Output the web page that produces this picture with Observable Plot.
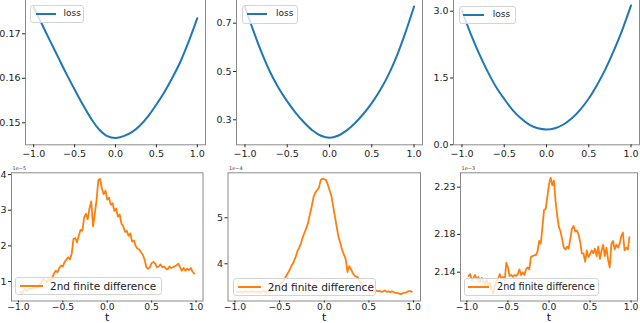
<!DOCTYPE html>
<html><head><meta charset="utf-8">
<script src="https://cdn.jsdelivr.net/npm/d3@7"></script>
<script src="https://cdn.jsdelivr.net/npm/@observablehq/plot@0.6"></script>
<style>
body{margin:0;background:#fff;}
#wrap{position:relative;width:640px;height:323px;overflow:hidden;background:#fff;font-family:"DejaVu Sans",sans-serif;}
#wrap svg{position:absolute;left:0;top:-10px;}
.leg{position:absolute;box-sizing:border-box;background:rgba(255,255,255,0.8);border:1px solid #d4d4d4;border-radius:3px;color:#222;white-space:nowrap;}
.leg .ln{position:absolute;height:2px;top:50%;margin-top:-1px;}
.leg .tx{position:absolute;top:50%;transform:translateY(-52%);line-height:1;}
</style></head><body><div id="wrap"></div>
<script>
// ---- data ----
const tTop = [-1.0,-0.9,-0.8,-0.7,-0.6,-0.5,-0.4,-0.3,-0.2,-0.1,0.0,0.1,0.2,0.3,0.4,0.5,0.6,0.7,0.8,0.9,1.0];
const lossA = [0.1760,0.1722,0.1684,0.1647,0.1610,0.1575,0.1541,0.1510,0.1485,0.1470,0.1466,0.1470,0.1479,0.1494,0.1515,0.1541,0.1570,0.1603,0.1640,0.1685,0.1735];
const lossB = [0.768,0.668,0.576,0.496,0.431,0.376,0.329,0.289,0.256,0.234,0.2255,0.234,0.255,0.286,0.324,0.369,0.423,0.488,0.568,0.663,0.769];
const lossC = [3.01,2.51,2.06,1.66,1.31,1.03,0.78,0.59,0.45,0.37,0.344,0.372,0.456,0.595,0.79,1.04,1.35,1.71,2.13,2.60,3.13];

const tBot = [-0.98,-0.96,-0.94,-0.92,-0.90,-0.88,-0.86,-0.84,-0.82,-0.80,
  -0.78,-0.76,-0.74,-0.72,-0.70,-0.68,-0.66,-0.64,-0.62,-0.60,
  -0.58,-0.56,-0.54,-0.52,-0.50,-0.48,-0.46,-0.44,-0.42,-0.40,
  -0.38,-0.36,-0.34,-0.32,-0.30,-0.28,-0.26,-0.24,-0.22,-0.20,
  -0.18,-0.16,-0.14,-0.12,-0.10,-0.08,-0.06,-0.04,-0.02,0.00,
  0.02,0.04,0.06,0.08,0.10,0.12,0.14,0.16,0.18,0.20,
  0.22,0.24,0.26,0.28,0.30,0.32,0.34,0.36,0.38,0.40,
  0.42,0.44,0.46,0.48,0.50,0.52,0.54,0.56,0.58,0.60,
  0.62,0.64,0.66,0.68,0.70,0.72,0.74,0.76,0.78,0.80,
  0.82,0.84,0.86,0.88,0.90,0.92,0.94,0.96,0.98];
// second finite difference, in units of 1e-5, 1e-4, 1e-3
const fdA = [0.72,0.66,0.75,0.78,0.74,0.80,0.78,0.82,0.80,0.86,
  0.84,0.92,0.98,1.08,1.02,0.98,1.07,1.02,1.10,1.22,
  1.30,1.26,1.38,1.45,1.42,1.55,1.62,1.68,1.62,1.78,
  2.20,2.22,2.10,2.30,2.45,2.42,2.80,2.90,2.75,3.05,
  3.25,2.55,2.90,3.30,3.85,3.88,3.60,3.45,3.55,3.30,
  3.35,3.15,3.20,2.98,3.05,2.82,2.88,2.62,2.55,2.40,
  2.42,2.28,2.35,2.12,2.15,2.00,1.92,1.90,1.82,1.75,
  1.62,1.40,1.36,1.40,1.52,1.55,1.50,1.40,1.42,1.48,
  1.40,1.42,1.36,1.34,1.42,1.38,1.40,1.43,1.45,1.50,
  1.40,1.30,1.38,1.30,1.36,1.32,1.38,1.28,1.22];
const fdB = [3.40,3.38,3.40,3.37,3.39,3.41,3.38,3.40,3.38,3.41,
  3.39,3.38,3.40,3.37,3.39,3.42,3.39,3.40,3.38,3.41,
  3.40,3.43,3.46,3.50,3.55,3.58,3.62,3.68,3.76,3.82,
  3.90,3.98,4.05,4.15,4.28,4.35,4.45,4.58,4.68,4.78,
  4.90,5.08,5.25,5.45,5.55,5.60,5.65,5.82,5.85,5.84,
  5.82,5.72,5.60,5.48,5.25,5.02,4.80,4.58,4.45,4.30,
  4.20,4.10,3.82,3.95,3.88,3.80,3.74,3.72,3.70,3.62,
  3.55,3.48,3.44,3.42,3.40,3.41,3.39,3.40,3.42,3.40,
  3.41,3.39,3.40,3.42,3.39,3.40,3.38,3.40,3.38,3.37,
  3.36,3.35,3.34,3.36,3.37,3.38,3.40,3.41,3.39];
const fdC = [2.136,2.138,2.131,2.134,2.137,2.132,2.135,2.129,2.134,2.130,
  2.127,2.132,2.126,2.129,2.121,2.117,2.125,2.130,2.133,2.138,
  2.133,2.135,2.131,2.150,2.145,2.136,2.137,2.135,2.137,2.136,
  2.138,2.143,2.137,2.140,2.137,2.143,2.145,2.143,2.156,2.157,
  2.158,2.158,2.162,2.173,2.170,2.188,2.206,2.207,2.220,2.233,
  2.240,2.232,2.237,2.215,2.200,2.188,2.183,2.175,2.166,2.164,
  2.167,2.165,2.176,2.186,2.189,2.183,2.184,2.180,2.172,2.160,
  2.160,2.151,2.163,2.156,2.159,2.163,2.160,2.165,2.157,2.167,
  2.154,2.163,2.169,2.157,2.166,2.153,2.145,2.170,2.173,2.164,
  2.169,2.166,2.170,2.178,2.182,2.163,2.166,2.164,2.177];

const xTicks = [-1.0,-0.5,0.0,0.5,1.0];
const yTicksA = [0.15,0.16,0.17], yTicksB = [0.3,0.5,0.7], yTicksC = [0.0,1.5,3.0];
const yTicksD = [1,2,3,4], yTicksE = [4,5], yTicksF = [2.14,2.18,2.23];
const offsets = ["1e\u22125","1e\u22124","1e\u22123"];
const topLabel = "loss", botLabel = "2nd finite difference", xLabel = "t";

// ---- layout ----
const BLUE = "#1f77b4", ORANGE = "#ff7f0e";
const W = 640, H = 333, OFF = 10;
const panels = [
  {t:tTop, v:lossA, c:BLUE, L:25, R:205, T:-1, B:144.3, xd:[-1.1,1.1], yd:[0.14506,0.1777], yt:yTicksA, yf:".2f", curve:"catmull-rom", pad:2, ts:3, fs:9.5},
  {t:tTop, v:lossB, c:BLUE, L:236, R:422, T:-1, B:144.3, xd:[-1.1,1.1], yd:[0.1965,0.798], yt:yTicksB, yf:".1f", curve:"catmull-rom", pad:2, ts:3, fs:9.5},
  {t:tTop, v:lossC, c:BLUE, L:453, R:639, T:-1, B:144.3, xd:[-1.1,1.1], yd:[0,3.263], yt:yTicksC, yf:".1f", curve:"catmull-rom", pad:2, ts:3, fs:9.5},
  {t:tBot, v:fdA, c:ORANGE, L:11, R:202.5, T:172.3, B:300.5, xd:[-1.078,1.078], yd:[0.453,4.05], yt:yTicksD, yf:"d", curve:"linear", pad:0, ts:2, fs:9.2, off:offsets[0]},
  {t:tBot, v:fdB, c:ORANGE, L:227.5, R:420, T:172.3, B:300.5, xd:[-1.078,1.078], yd:[3.191,5.978], yt:yTicksE, yf:"d", curve:"linear", pad:0, ts:2, fs:9.2, off:offsets[1]},
  {t:tBot, v:fdC, c:ORANGE, L:460, R:637, T:172.3, B:300.5, xd:[-1.078,1.078], yd:[2.1095,2.2452], yt:yTicksF, yf:".2f", curve:"linear", pad:0, ts:2, fs:9.2, off:offsets[2]}
];

const wrap = document.getElementById("wrap");
for (const p of panels) {
  const data = p.t.map((t, i) => ({t, v: p.v[i]}));
  const marks = [
    Plot.frame({stroke: "#8a8a8a", strokeWidth: 1}),
    Plot.axisX({ticks: xTicks, tickFormat: d3.format(".1f"), tickSize: p.ts, tickPadding: p.pad, label: null, fontSize: p.fs}),
    Plot.axisY({ticks: p.yt, tickFormat: d3.format(p.yf), tickSize: 3, tickPadding: 2, label: null, fontSize: 9.5}),
    Plot.line(data, {x: "t", y: "v", stroke: p.c, strokeWidth: p.c === BLUE ? 2 : 1.8, curve: p.curve})
  ];
  if (p.off) {
    marks.push(Plot.text([p.off], {frameAnchor: "top-left", dy: -6, dx: 1, fontSize: 5, textAnchor: "start", fill: "#444"}));
    marks.push(Plot.text([xLabel], {frameAnchor: "bottom", dy: 19.5, fontSize: 11, fill: "#111"}));
  }
  const svg = Plot.plot({
    width: W, height: H,
    marginLeft: p.L, marginRight: W - p.R, marginTop: p.T + OFF, marginBottom: H - (p.B + OFF),
    x: {domain: p.xd}, y: {domain: p.yd},
    style: {background: "transparent", fontFamily: "DejaVu Sans", fontSize: "9.5px", color: "#222", overflow: "visible"},
    marks
  });
  wrap.appendChild(svg);
}

// legends
const legs = [
  {L:30, T:5, W:54, H:18, c:BLUE, l0:5, l1:25, tx:32.5, fs:9, label:topLabel},
  {L:241.5, T:5, W:56, H:18.5, c:BLUE, l0:4, l1:24, tx:33.5, fs:9, label:topLabel},
  {L:459, T:5.5, W:57, H:18.5, c:BLUE, l0:3, l1:24, tx:32.7, fs:9, label:topLabel},
  {L:15, T:277, W:147, H:18, c:ORANGE, l0:4, l1:27, tx:34, fs:10.5, label:botLabel},
  {L:232.5, T:278, W:143.5, H:17.5, c:ORANGE, l0:4, l1:27.5, tx:34.2, fs:10.5, label:botLabel},
  {L:464, T:278, W:135, H:17.5, c:ORANGE, l0:2.7, l1:24.3, tx:32, fs:9.7, label:botLabel}
];
for (const g of legs) {
  const d = document.createElement("div");
  d.className = "leg";
  Object.assign(d.style, {left: g.L + "px", top: g.T + "px", width: g.W + "px", height: g.H + "px"});
  const ln = document.createElement("div");
  ln.className = "ln";
  Object.assign(ln.style, {left: g.l0 + "px", width: (g.l1 - g.l0) + "px", background: g.c});
  const tx = document.createElement("span");
  tx.className = "tx";
  tx.textContent = g.label;
  Object.assign(tx.style, {left: g.tx + "px", fontSize: g.fs + "px"});
  d.appendChild(ln); d.appendChild(tx);
  wrap.appendChild(d);
}
</script></body></html>
